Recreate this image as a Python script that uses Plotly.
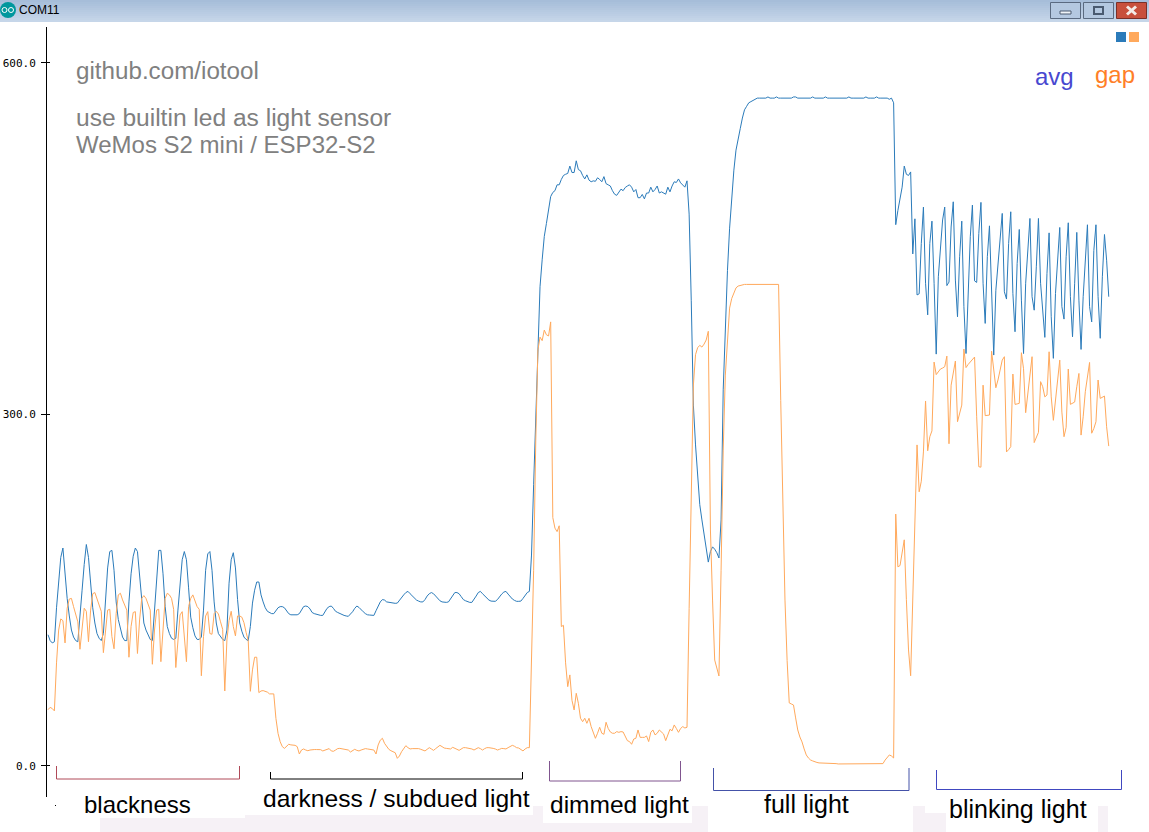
import plotly.graph_objects as go

W, H = 1149, 832

# ---- sampled serial-plotter values, one list per stage ----
avg_blackness = [112,107,105,106,135,160,178,186,160,143,128,116,110,107,106,
 125,150,172,189,178,152,135,122,113,109,107,113,142,169,183,184,167,140,125,116,110,107,
 107,140,164,179,186,183,162,139,122,116,112,108,107,130,156,184,184,164,136,119,113,109,108,
 109,133,159,176,183,176,152,127,118,111,108,108,110,133,167,181,183,167,140,122,113,110,108,107,
 116,156,176,182,169,142,122,115,110,108,107]
avg_darkness = [119,139,150,157,157,146,140,135,132,131,130,130,133,135,136,136,135,132,130,129,129,129,129,
 130,133,136,136.5,136,134,131,130,129.4,129,128.5,128.5,131.6,134.5,136,136.5,134.5,132,131,130,129,128.5,128,127.7,
 129.7,131.6,134.5,136.5,135.3,133,131.6,130,129,128.8,128.5,128.5,132.5,136.5,140,142,141.6,140,139.6,139.3,138.8,138.8,
 139,141.6,144,146,148,149,147,145,143,141.6,140.7,140,140,142,145,147,148,147,145,143,141,140,139.6,139.6,
 140,143,146,148,148,147,144.5,142,141,140,139.6,139.6,142,145,148,149,147,145,143,141.6,140.7,140.5,140.5,
 142,144.5,146.7,148.4,149,146.7,144.5,142.5,141.3,140.5,140.5,140.7,143,145.9,148,149]
avg_dimmed = [180,240,300,355,409,432,452,463,473,486,489.5,491,496,496,500.6,504,505,505.7,512,506.5,506.5,516.5,
 509,508,504,501,504.5,500,498.6,499.4,499,502,500.6,498.6,503,497,496,495,491,488,487,490,492.3,491,493.7,495,496,494,
 490,492,485,485,487.8,484,489,489,494,490,492,495,489,490,489,488,494,490,495,498.6,498,501,497.7,495.5,494,499.4,471,
 397,308,274,244,223,210,197,184,174,183,187,185,182,177.5]
avg_full = [210,321,376,423,459,487,508.5,525.6,536,544,553,560,563,566,567,568,569,
 570,570,570,570,570,571,570,570,570,571,570,570,570,570,570,570,570,571,571,570,570,570,570,570,
 570,570,571,570,570,570,570,570,571,570,570,570,570,570,570,570,570,570,570,571,570,570,570,570,570,
 570,570,571,570,570,570,570,571,570,570,570,570,570,569,570,566]
avg_blinking = [462,474,486,494,512,505,504,507,437,467,402,403,446,477,412,385,446,465,412,351.5,417.5,446,466,477,410,413,
 460,481.5,414.7,383.4,434.6,465,392,352,412,451.7,478.7,414,412.7,454.5,481,412,377.7,434.6,461,397.6,350.7,406,427.5,448.8,
 471.6,404.7,398.5,446,473,403.3,370.6,428.9,457.9,397.6,352,412,440.3,467.3,400.5,389,426,467.3,412,389,365.8,420.4,455,
 383.4,347.9,403.3,431.7,459.6,392,381.4,434.6,463.6,400.5,366.3,412,455.4,397.6,355.5,400.5,431.7,461.9,392,379,440,461.9,
 400.5,365,417.5,453.6,431.7,400.5]

gap_blackness = [48,50,49,47,88,116,125.5,124,105,134.6,142.5,143,136,130,123,99.6,116,134.6,132,106,133,147,148,143,137.4,132,
 96.7,116,133,133.7,110.4,100,130,146,147.4,141.7,137.4,133,92.8,119,131,131.7,96,124.6,143,145.4,143,137.4,133,86.8,116,133,
 133.7,89,119,143,147.4,146,143,133.7,84,107.5,128.9,131.7,110.4,89,136,143,146,140,136,133.7,77,110.4,128,131.7,113,112.4,
 130,132,129.7,123,116.6,64,107.5,124,132,119,111,128,128,127,122.3,114,107]
gap_darkness = [63.7,82,92.8,92.8,62.6,64,64.3,63.7,63,61.5,61.5,61.5,40.6,27.8,20.7,16.5,15,17,18.5,18,17.9,17.6,16.5,10.2,13.6,
 14.5,13.6,13,13.6,14,14,14,14,13.9,12.8,13.6,14.5,14.8,12.8,12.5,13.6,14.8,15,14.8,14.5,14.2,13.6,11.9,13.3,14.2,13.3,12.8,13.6,
 14.2,14.8,14.5,14.2,14.2,13.6,10.2,17.9,22,23.6,19.3,16.5,14.2,13,11.9,11.3,6.5,8.5,12.2,14.8,17.3,15.6,14.5,14.8,15,15,14.8,
 14.2,13.6,12.8,14.2,15.6,14.5,13.3,14.8,16.2,17.6,16.5,15.3,15,14.5,14.5,15.9,15.3,14.2,13.3,14.8,15.6,15.6,15.3,15.3,14.5,
 13.6,14.5,15.6,14.8,13.6,14.8,15.6,15.6,15.6,15,14.5,13.6,14.2,15,14.8,14.5,15.6,17,17.6,16.8,15.6,15.3,14.2,12.8,14.5,15.6,15.6]
gap_dimmed = [82,167,278,355,366,363,372,368,367,379,212,203,200,205,119,120,88,67.7,77.7,56,47.8,62,53.5,40.7,37.8,40.7,36.4,40.7,
 33.6,27.9,23.6,27.9,33,27.9,27,37.3,32,29,27.9,27.9,29.3,28.7,29.3,29,25,21.6,20.8,18.5,23,23.6,30.7,24.4,24.4,24.4,25.6,20.8,
 28.7,30.7,26.5,27.9,30.7,29.3,27.3,21.6,26.5,31.3,30,35,32,28.7,32,33.6,32.4,33,134.5,235,325,351,357,359,357.5,360,363.5,371,
 201.4,141.6,90.4,83.6,76.8]
gap_full = [167,269.6,333.6,367.7,390.8,399,404,408,409.6,410,411,411,411,411,411,411,411,411,411,411,411,411,411,411,411,411,411,411,
 312,218,141.6,90,53.8,52.9,52,41,30.7,24.7,20.5,14.5,9.4,6.8,5.1,4.3,3.4,3,2.6,2.6,2.5,2.5,2.2,2,2,2,2,1.7,1.7,1.7,2,2,2,2,2,2,2,2,2,2,1.7,
 1.7,2,2,2,2,2,2,2,5,7.7,9.4,8.5,6.8]
gap_blinking = [215,170,171,182,193,142,99,77,142,210,274,234,243,268,311.5,269,281,286,344.7,334,336.5,338.8,339.6,340.8,349.8,275,
 325,335,345.6,293.8,301,308,355.8,340,342.7,345,347,349,298,255.4,255,325,299,299,299.5,354,339,322.8,329.4,339.3,346.4,349.3,268,
 270,272.5,334.5,308.6,309,309.5,352.7,339,301.5,319.4,335,349.3,276,280.5,284.7,328,323.7,315,316.6,353.5,315,295,313.7,330.8,346.4,
 302,281,289,338.8,308.6,309.5,310.6,323.7,335,282.4,298,319.4,332,344.4,284,288,293.8,329.4,313.7,314.6,315.7,289.5,273]

avg = avg_blackness + avg_darkness + avg_dimmed + avg_full + avg_blinking
gap = gap_blackness + gap_darkness + gap_dimmed + gap_full + gap_blinking

y_ticks = [0, 300, 600]
y_tick_labels = ["0.0", "300.0", "600.0"]
stage_labels = ["blackness", "darkness / subdued light", "dimmed light", "full light", "blinking light"]

BLUE, ORANGE = "#2b7bba", "#ffa95c"

def X(p): return p / W
def Y(p): return 1 - p / H

fig = go.Figure()
fig.add_trace(go.Scatter(x=list(range(len(avg))), y=avg, mode="lines", name="avg",
                         line=dict(color=BLUE, width=1), showlegend=False))
fig.add_trace(go.Scatter(x=list(range(len(gap))), y=gap, mode="lines", name="gap",
                         line=dict(color=ORANGE, width=1), showlegend=False))

shapes, ann = [], []

def rect(x0, y0, x1, y1, fill, line=None, lw=0, layer="below"):
    shapes.append(dict(type="rect", xref="paper", yref="paper", x0=X(x0), x1=X(x1), y0=Y(y0), y1=Y(y1),
                       fillcolor=fill, line=dict(color=line or fill, width=lw), layer=layer))

def bracket(x0, x1, top0, top1, bottom, color):
    path = f"M {X(x0)} {Y(top0)} L {X(x0)} {Y(bottom)} L {X(x1)} {Y(bottom)} L {X(x1)} {Y(top1)}"
    shapes.append(dict(type="path", xref="paper", yref="paper", path=path,
                       line=dict(color=color, width=1), layer="above"))

def seg(x0, y0, x1, y1, color, lw):
    shapes.append(dict(type="line", xref="paper", yref="paper", x0=X(x0), x1=X(x1), y0=Y(y0), y1=Y(y1),
                       line=dict(color=color, width=lw), layer="above"))

def text(x, y, s, size, color, anchor="center", family="Liberation Sans"):
    ann.append(dict(xref="paper", yref="paper", x=X(x), y=Y(y), text=s, showarrow=False, xanchor=anchor,
                    yanchor="middle", font=dict(family=family, size=size, color=color), borderpad=0, borderwidth=0))

# faint backdrop along the bottom edge
PINK = "#f6f1f6"
for box in [(100, 818, 245, 832), (245, 815, 543, 832), (533, 806, 543, 832), (543, 823, 708, 832),
            (692, 806, 708, 832), (913, 806, 925, 832), (925, 813, 946, 832), (1098, 806, 1108, 832)]:
    rect(*box, PINK)

# window title bar
top, bottom = (166, 189, 217), (198, 214, 233)
for r in range(11):
    t = r / 10
    c = "rgb(%d,%d,%d)" % tuple(round(a + (b - a) * t) for a, b in zip(top, bottom))
    rect(0, r * 2, W, r * 2 + 2, c)
rect(1050.5, 2.5, 1080.5, 18.5, "#b4c8e0", "#5a6a80", 1)
rect(1083.5, 2.5, 1113.5, 18.5, "#b4c8e0", "#5a6a80", 1)
rect(1116.5, 2.5, 1146.5, 18.5, "#c8503c", "#7a3028", 1)
rect(1060, 11, 1071, 14, "#f0f4f8", "#4a5a70", 1)
rect(1094, 7, 1103, 14, "#b4c8e0", "#4a5a70", 2)
seg(1127, 6.5, 1136, 14.5, "#f4ece8", 3)
seg(1136, 6.5, 1127, 14.5, "#f4ece8", 3)
shapes.append(dict(type="circle", xref="paper", yref="paper", x0=X(0), x1=X(16), y0=Y(2), y1=Y(18),
                   fillcolor="#00979d", line=dict(color="#00979d", width=0), layer="below"))
for cx in (4.5, 11):
    shapes.append(dict(type="circle", xref="paper", yref="paper", x0=X(cx - 2.5), x1=X(cx + 2.5), y0=Y(7.5), y1=Y(12.5),
                       fillcolor="#00979d", line=dict(color="white", width=1), layer="below"))
text(19, 10.5, "COM11", 12, "#000000", "left")

# plotter legend squares
rect(1116, 32, 1126, 42, BLUE)
rect(1129, 32, 1139, 42, ORANGE)
rect(55, 805, 56, 806, "#000000")

# stage brackets
bracket(56.5, 239.5, 766, 766, 779, "#b04a58")
bracket(270.5, 522.5, 772, 772, 779, "#000000")
bracket(549.5, 680.5, 761, 761, 781, "#80558f")
bracket(713.5, 909, 768, 768, 790.5, "#4452a8")
bracket(936.5, 1121.5, 770, 770, 789.5, "#4048c0")

# captions
text(76, 71, "github.com/iotool", 24.2, "#808080", "left")
text(76, 117.5, "use builtin led as light sensor", 24.55, "#808080", "left")
text(76, 144.5, "WeMos S2 mini / ESP32-S2", 24, "#808080", "left")
text(1054, 76, "avg", 24, "#4848d0")
text(1115, 74, "gap", 24, "#ff7f27")
label_specs = [(137.5, 804, 24), (396.5, 798, 24.6), (619.5, 804, 24.5), (806, 804, 25), (1017.5, 809, 25)]
for (cx, cy, size), s in zip(label_specs, stage_labels):
    text(cx, cy, s, size, "#000000")

PX_PER_SAMPLE = 2.13
fig.update_layout(
    width=W, height=H, autosize=False, margin=dict(l=0, r=0, t=0, b=0),
    paper_bgcolor="white", plot_bgcolor="white", showlegend=False, shapes=shapes, annotations=ann,
    xaxis=dict(domain=[X(47), 1], range=[-1 / PX_PER_SAMPLE, (W - 48) / PX_PER_SAMPLE], visible=False, fixedrange=True),
    yaxis=dict(domain=[Y(797), Y(27)], range=[-26.5, 630.7], showgrid=False, zeroline=False, showline=True,
               linecolor="black", linewidth=1, tickmode="array", tickvals=y_ticks, ticktext=y_tick_labels,
               ticks="outside", ticklen=5, tickcolor="black", tickwidth=1, ticklabelstandoff=3,
               tickfont=dict(family="DejaVu Sans Mono", size=11, color="black"),
               minor=dict(tickmode="array", tickvals=y_ticks, ticks="inside", ticklen=3, tickcolor="black", tickwidth=1),
               fixedrange=True),
)
fig.write_html("out.html", config={"displayModeBar": False},
               post_script="document.body.style.margin='0';document.body.style.overflow='hidden';")
